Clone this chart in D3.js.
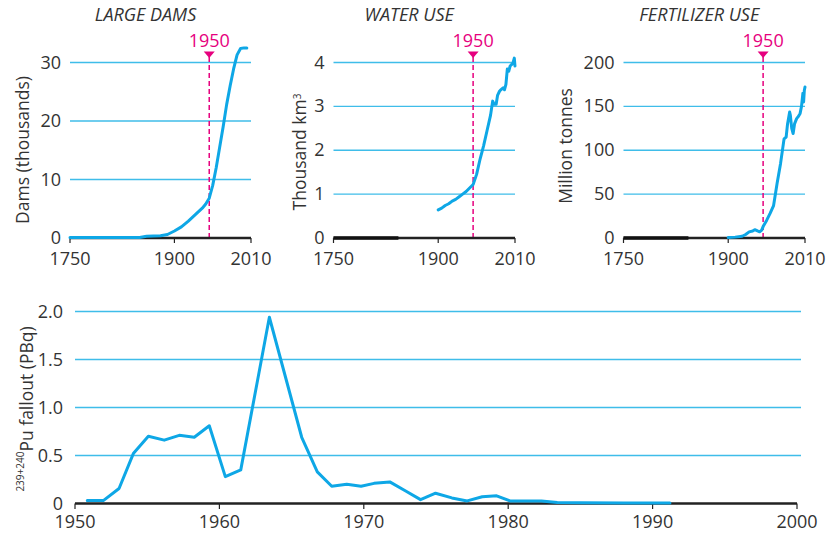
<!DOCTYPE html>
<html><head><meta charset="utf-8">
<script src="https://cdn.jsdelivr.net/npm/d3@7"></script>
<style>
body{margin:0;background:#fff}
svg text{font-family:"Open Sans",sans-serif;fill:#333}
</style>
</head><body>
<svg id="c" width="832" height="533"></svg>
<script>
// ---- data ----
const damYears  = [1750,1800,1850,1860,1870,1880,1890,1900,1910,1920,1930,1940,1945,1950,1955,1960,1965,1970,1975,1980,1985,1990,1995,2000,2004];
const damValues = [0.1,0.1,0.1,0.3,0.35,0.4,0.6,1.2,1.9,2.9,4.0,5.1,5.8,6.8,9.0,12.0,15.5,19.0,22.8,26.0,28.9,31.3,32.4,32.5,32.5];

const waterYears  = [1900,1905,1910,1915,1920,1925,1930,1935,1940,1945,1950,1955,1960,1965,1970,1975,1978,1980,1983,1985,1988,1990,1993,1995,1997,1999,2001,2003,2005,2007,2009,2010];
const waterValues = [0.64,0.68,0.74,0.78,0.84,0.88,0.94,1.0,1.06,1.14,1.22,1.45,1.8,2.1,2.45,2.8,3.12,3.05,3.05,3.25,3.35,3.38,3.42,3.38,3.5,3.85,3.8,3.92,3.95,3.98,4.1,3.92];

const fertYears  = [1900,1910,1920,1925,1930,1935,1938,1942,1945,1948,1950,1955,1960,1965,1970,1975,1980,1983,1985,1988,1989,1991,1993,1995,1998,2000,2003,2005,2007,2008,2009,2010];
const fertValues = [0.5,1,2,4,7,8,9.5,8,7,9,13,20,28,37,62,85,113,115,130,143.5,140,125,119,130,136,138,142,150,165,155,168,172];

const puYears  = [1950.85,1951.96,1953.05,1954.04,1955.08,1956.18,1957.22,1958.26,1959.3,1960.41,1961.48,1963.46,1965.7,1966.78,1967.78,1968.82,1969.81,1970.71,1971.8,1972.9,1973.93,1974.97,1976.1,1977.16,1978.2,1979.2,1980.12,1981.2,1982.3,1983.4,1985,1988,1991.2];
const puValues = [0.03,0.03,0.156,0.52,0.70,0.66,0.71,0.69,0.81,0.28,0.35,1.94,0.69,0.33,0.18,0.20,0.18,0.21,0.225,0.13,0.04,0.107,0.058,0.027,0.07,0.08,0.027,0.027,0.027,0.01,0.008,0.005,0.005];

const topXTicks = [1750,1900,2010];
const damTicks = [0,10,20,30];
const waterTicks = [0,1,2,3,4];
const fertTicks = [0,50,100,150,200];
const puXTicks = [1950,1960,1970,1980,1990,2000];
const puYTicks = [0,0.5,1.0,1.5,2.0];
const markerYear = 1950;

// ---- styles ----
const BLUE = "#0ea7e6", GRID = "#3fbde9", AXIS = "#222", MAG = "#e6007e";
const svg = d3.select("#c");

function topPanel(cfg){
  const x = d3.scaleLinear().domain([1750,2010]).range([cfg.x0,cfg.x1]);
  const y = d3.scaleLinear().domain([0,cfg.ymax]).range([238,62.5]);
  const g = svg.append("g");
  g.selectAll(".grid").data(cfg.yticks.filter(d=>d>0)).join("line")
    .attr("x1",cfg.x0).attr("x2",cfg.x1).attr("y1",d=>y(d)).attr("y2",d=>y(d))
    .attr("stroke",GRID).attr("stroke-width",1.3);
  g.selectAll(".yl").data(cfg.yticks).join("text")
    .attr("x",cfg.x0-9).attr("y",d=>y(d)).attr("dy","0.34em")
    .attr("text-anchor","end").style("font-size","18px").text(d=>d);
  const mx = x(markerYear);
  g.append("line").attr("x1",mx).attr("x2",mx).attr("y1",57).attr("y2",238)
    .attr("stroke",MAG).attr("stroke-width",1.5).attr("stroke-dasharray","5,3");
  g.append("path").attr("d",`M${mx-5.5},51.5L${mx+5.5},51.5L${mx},58Z`).attr("fill",MAG);
  g.append("text").attr("x",mx).attr("y",47).attr("text-anchor","middle")
    .style("font-size","18px").style("fill",MAG).text(markerYear);
  g.append("line").attr("x1",cfg.x0).attr("x2",cfg.x1).attr("y1",238).attr("y2",238)
    .attr("stroke",AXIS).attr("stroke-width",2.6);
  if(cfg.thick){
    g.append("line").attr("x1",x(1750)).attr("x2",x(1843)).attr("y1",238).attr("y2",238)
      .attr("stroke","#111").attr("stroke-width",3.6);
  }
  g.selectAll(".xt").data(topXTicks).join("line")
    .attr("x1",d=>x(d)).attr("x2",d=>x(d)).attr("y1",238).attr("y2",243)
    .attr("stroke",AXIS).attr("stroke-width",1.2);
  g.selectAll(".xl").data(topXTicks).join("text")
    .attr("x",d=>x(d)).attr("y",264.5).attr("text-anchor","middle")
    .style("font-size","18px").text(d=>d);
  const line = d3.line().x((d,i)=>x(cfg.xs[i])).y(d=>y(d));
  g.append("path").attr("d",line(cfg.ys)).attr("fill","none")
    .attr("stroke",BLUE).attr("stroke-width",3).attr("stroke-linejoin","round").attr("stroke-linecap","round");
  g.append("text").attr("x",(cfg.x0+cfg.x1)/2-15).attr("y",21).attr("text-anchor","middle")
    .style("font-size","18px").style("font-style","italic").text(cfg.title);
  const t = g.append("text").attr("transform",`translate(${cfg.tx},${cfg.ty}) rotate(-90)`)
    .attr("text-anchor","middle").style("font-size","17.5px");
  t.text(cfg.ytitle);
  if(cfg.sup){ t.append("tspan").attr("dy","-0.5em").style("font-size","10px").text(cfg.sup); }
}

topPanel({x0:70,x1:251,ymax:30,yticks:damTicks,xs:damYears,ys:damValues,title:"LARGE DAMS",ytitle:"Dams (thousands)",tx:29,ty:150});
topPanel({x0:333.5,x1:515,ymax:4,yticks:waterTicks,xs:waterYears,ys:waterValues,title:"WATER USE",ytitle:"Thousand km",sup:"3",tx:306,ty:152,thick:true});
topPanel({x0:623.5,x1:805,ymax:200,yticks:fertTicks,xs:fertYears,ys:fertValues,title:"FERTILIZER USE",ytitle:"Million tonnes",tx:572,ty:146,thick:true});

// ---- bottom panel ----
(function(){
  const x = d3.scaleLinear().domain([1950,2000]).range([75,797]);
  const y = d3.scaleLinear().domain([0,2]).range([503.5,311.5]);
  const g = svg.append("g");
  g.selectAll(".grid").data(puYTicks.filter(d=>d>0)).join("line")
    .attr("x1",75).attr("x2",801).attr("y1",d=>y(d)).attr("y2",d=>y(d))
    .attr("stroke",GRID).attr("stroke-width",1.3);
  g.selectAll(".yl").data(puYTicks).join("text")
    .attr("x",63).attr("y",d=>y(d)).attr("dy","0.34em").attr("text-anchor","end")
    .style("font-size","18px").text(d=>d===0?"0":d.toFixed(1));
  g.append("line").attr("x1",75).attr("x2",797).attr("y1",503.5).attr("y2",503.5)
    .attr("stroke",AXIS).attr("stroke-width",2.6);
  g.selectAll(".xt").data(puXTicks).join("line")
    .attr("x1",d=>x(d)).attr("x2",d=>x(d)).attr("y1",503.5).attr("y2",509)
    .attr("stroke",AXIS).attr("stroke-width",1.2);
  g.selectAll(".xl").data(puXTicks).join("text")
    .attr("x",d=>x(d)).attr("y",527.5).attr("text-anchor","middle")
    .style("font-size","18px").text(d=>d);
  const line = d3.line().x((d,i)=>x(puYears[i])).y(d=>y(d));
  g.append("path").attr("d",line(puValues)).attr("fill","none")
    .attr("stroke",BLUE).attr("stroke-width",3).attr("stroke-linejoin","round").attr("stroke-linecap","round");
  const t = g.append("text").attr("transform","translate(29,409) rotate(-90)")
    .attr("text-anchor","middle").style("font-size","17.5px");
  t.append("tspan").attr("dy","-0.5em").style("font-size","10px").text("239+240");
  t.append("tspan").attr("dy","0.5em").text("Pu fallout (PBq)");
})();
</script>
</body></html>
